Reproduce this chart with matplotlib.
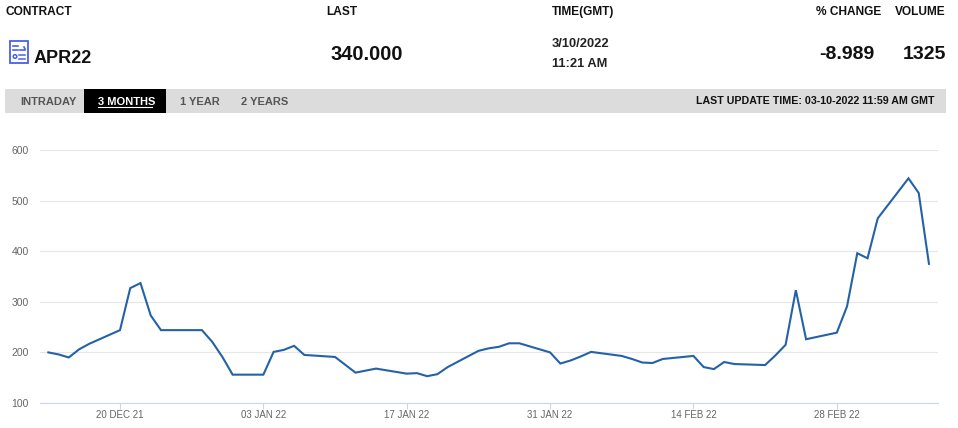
import matplotlib
matplotlib.use("Agg")
import matplotlib.pyplot as plt
import matplotlib.dates as mdates
from matplotlib.patches import Rectangle, Circle
import numpy as np
from datetime import datetime, timedelta

# ---------------- data ----------------
dates = ["2021-12-13", "2021-12-14", "2021-12-15", "2021-12-16", "2021-12-17",
         "2021-12-20", "2021-12-21", "2021-12-22", "2021-12-23", "2021-12-24",
         "2021-12-28", "2021-12-29", "2021-12-30", "2021-12-31",
         "2022-01-03", "2022-01-04", "2022-01-05", "2022-01-06", "2022-01-07",
         "2022-01-10", "2022-01-12", "2022-01-13", "2022-01-14",
         "2022-01-17", "2022-01-18", "2022-01-19", "2022-01-20", "2022-01-21",
         "2022-01-24", "2022-01-25", "2022-01-26", "2022-01-27", "2022-01-28",
         "2022-01-31", "2022-02-01", "2022-02-02", "2022-02-03", "2022-02-04",
         "2022-02-07", "2022-02-08", "2022-02-09", "2022-02-10", "2022-02-11",
         "2022-02-14", "2022-02-15", "2022-02-16", "2022-02-17", "2022-02-18",
         "2022-02-21", "2022-02-22", "2022-02-23", "2022-02-24", "2022-02-25",
         "2022-02-28", "2022-03-01", "2022-03-02", "2022-03-03", "2022-03-04",
         "2022-03-07", "2022-03-08", "2022-03-09"]
prices = [200, 196, 190, 206, 217,
          244, 327, 337, 273, 244,
          244, 221, 191, 156,
          156, 201, 205, 213, 195,
          191, 160, 164, 168,
          158, 159, 153, 157, 171,
          203, 208, 211, 218, 218,
          200, 178, 184, 192, 201,
          193, 187, 180, 179, 187,
          193, 171, 167, 181, 177,
          175, 194, 215, 323, 226,
          239, 291, 396, 386, 465,
          544, 515, 375]

tick_dates = ["2021-12-20", "2022-01-03", "2022-01-17", "2022-01-31", "2022-02-14", "2022-02-28"]
tick_labels = ["20 DEC 21", "03 JAN 22", "17 JAN 22", "31 JAN 22", "14 FEB 22", "28 FEB 22"]
y_ticks = [100, 200, 300, 400, 500, 600]

header_labels = ["CONTRACT", "LAST", "TIME(GMT)", "% CHANGE", "VOLUME"]
contract = "APR22"
last_value = "340.000"
time_lines = ["3/10/2022", "11:21 AM"]
pct_change = "-8.989"
volume = "1325"
tabs = ["INTRADAY", "3 MONTHS", "1 YEAR", "2 YEARS"]
update_text = "LAST UPDATE TIME: 03-10-2022 11:59 AM GMT"

# ---------------- figure ----------------
W, H = 958, 428
plt.rcParams['font.family'] = ['Liberation Sans', 'DejaVu Sans']
fig = plt.figure(figsize=(W / 100, H / 100), dpi=100)
fig.patch.set_facecolor("white")

# overlay in pixel coordinates for the header
ov = fig.add_axes([0, 0, 1, 1])
ov.set_xlim(0, W)
ov.set_ylim(H, 0)
ov.axis("off")

dark = "#111111"
ov.text(6, 12, header_labels[0], fontsize=8.6, fontweight="bold", color=dark, va="center", ha="left")
ov.text(326, 12, header_labels[1], fontsize=8.6, fontweight="bold", color=dark, va="center", ha="left")
ov.text(552, 12, header_labels[2], fontsize=8.6, fontweight="bold", color=dark, va="center", ha="left")
ov.text(881, 12, header_labels[3], fontsize=8.6, fontweight="bold", color=dark, va="center", ha="right")
ov.text(946, 12, header_labels[4], fontsize=8.6, fontweight="bold", color=dark, va="center", ha="right")

# icon
blue_icon = "#4a5ff0"
ov.add_patch(Rectangle((10, 41), 18, 22, fill=False, edgecolor=blue_icon, lw=1.3))
ov.plot([13, 18], [46, 46], color=blue_icon, lw=1.2)
ov.plot([13, 18], [50, 50], color=blue_icon, lw=1.2)
ov.plot([20, 25], [50, 50], color=blue_icon, lw=1.2)
ov.plot([24, 25], [47, 49], color=blue_icon, lw=1.2)
ov.add_patch(Circle((15, 56.5), 1.8, fill=False, edgecolor=blue_icon, lw=1.1))
ov.plot([19, 25], [55, 55], color=blue_icon, lw=1.1)
ov.plot([19, 25], [58.5, 58.5], color=blue_icon, lw=1.1)

ov.text(34, 58, contract, fontsize=13, fontweight="bold", color=dark, va="center", ha="left")
ov.text(367, 54, last_value, fontsize=14.5, fontweight="bold", color=dark, va="center", ha="center")
ov.text(552, 43.5, time_lines[0], fontsize=9.3, fontweight="bold", color="#222222", va="center", ha="left")
ov.text(552, 63.5, time_lines[1], fontsize=9.3, fontweight="bold", color="#222222", va="center", ha="left")
ov.text(875, 54, pct_change, fontsize=14, fontweight="bold", color=dark, va="center", ha="right")
ov.text(946, 54, volume, fontsize=14, fontweight="bold", color=dark, va="center", ha="right")

# tab bar
ov.add_patch(Rectangle((5, 89), 941, 24, facecolor="#dcdcdc", edgecolor="none"))
ov.add_patch(Rectangle((84, 89), 82, 24, facecolor="#000000", edgecolor="none"))
tab_x = [20, 98, 180, 241]
for i, (tx, name) in enumerate(zip(tab_x, tabs)):
    col = "white" if i == 1 else "#555555"
    ov.text(tx, 101.5, name, fontsize=8, fontweight="bold", color=col, va="center", ha="left")
ov.plot([98, 152], [106.5, 106.5], color="white", lw=0.8)
ov.text(935, 101, update_text, fontsize=7.7, fontweight="bold", color=dark, va="center", ha="right")

# ---------------- chart ----------------
left_px, right_px, top_px, bottom_px = 40, 938, 150, 403
ax = fig.add_axes([left_px / W, (H - bottom_px) / H, (right_px - left_px) / W, (bottom_px - top_px) / H])
ax.patch.set_alpha(0)

x = [datetime.strptime(d, "%Y-%m-%d") for d in dates]
ax.plot(x, prices, color="#2462a8", lw=1.5, solid_joinstyle="miter")

ref = datetime(2021, 12, 20)
px_per_day = 10.24
ax.set_xlim(mdates.date2num(ref - timedelta(days=(120 - left_px) / px_per_day)),
            mdates.date2num(ref + timedelta(days=(right_px - 120) / px_per_day)))
ax.set_ylim(100, 600)

ax.set_yticks(y_ticks)
ax.set_yticklabels([str(v) for v in y_ticks])
ax.set_xticks([datetime.strptime(d, "%Y-%m-%d") for d in tick_dates])
ax.set_xticklabels(tick_labels)

ax.grid(axis="y", color="#e6e6e6", lw=0.8)
ax.set_axisbelow(True)
for s in ["top", "right", "left"]:
    ax.spines[s].set_visible(False)
ax.spines["bottom"].set_color("#ccd6eb")
ax.spines["bottom"].set_linewidth(0.8)
ax.tick_params(axis="y", length=0, pad=8, labelsize=7.5, labelcolor="#666666")
ax.tick_params(axis="x", length=4.3, width=0.8, color="#ccd6eb", pad=1, labelsize=7, labelcolor="#666666")

fig.savefig("out.png", dpi=100, facecolor="white")
